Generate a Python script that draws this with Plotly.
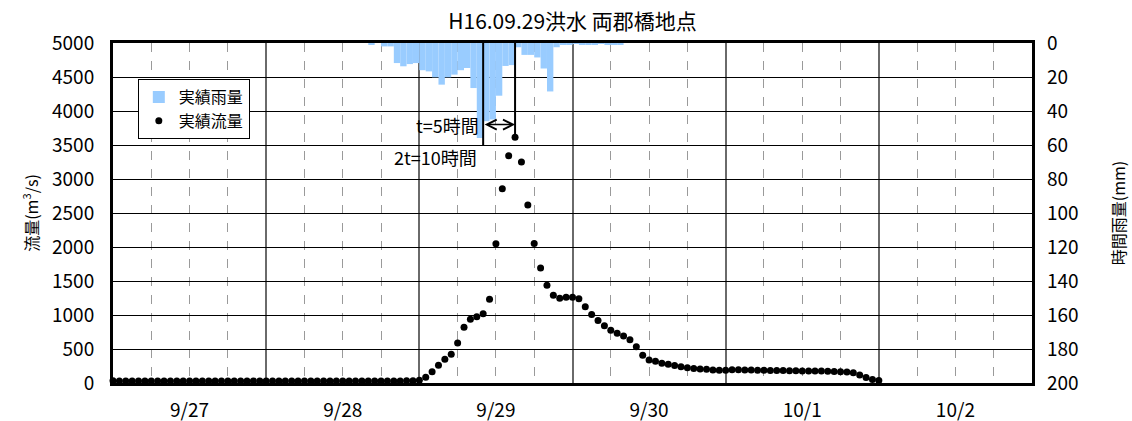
import numpy as np
import pandas as pd
import plotly.graph_objects as go

# ---------------- data ----------------
title_text = "H16.09.29洪水 両郡橋地点"
flow_name = "実績流量"
rain_name = "実績雨量"
flow_axis_title = "流量(m<sup>3</sup>/s)"
rain_axis_title = "時間雨量(mm)"

# hourly observed discharge (m3/s) from 2004-09-27 00:00
flow_start = "2004-09-27 00:00"
flow_values = [
    32, 31, 31, 30, 30, 30, 30, 30, 30, 30, 30, 30,
    30, 30, 30, 30, 30, 30, 30, 30, 30, 30, 30, 30,
    30, 30, 30, 30, 30, 30, 30, 30, 30, 30, 30, 30,
    30, 30, 30, 30, 30, 30, 30, 30, 30, 30, 32, 34,
    40, 85, 167, 260, 350, 424, 588, 819, 937, 975, 1019, 1231,
    2047, 2858, 3343, 3613, 3250, 2618, 2050, 1692, 1436, 1290, 1245, 1262,
    1262, 1238, 1120, 1008, 918, 843, 775, 733, 691, 635, 532, 407,
    338, 319, 292, 277, 258, 240, 225, 214, 206, 201, 191, 186,
    186, 196, 196, 191, 190, 188, 187, 185, 184, 182, 181, 180,
    178, 177, 176, 175, 173, 170, 167, 162, 150, 118, 80, 52,
    38,
]

# hourly rainfall (mm), value for the hour ENDING at the timestamp
rain_start = "2004-09-28 17:00"
rain_values = [
    1, 0, 2, 2, 11.8, 13.7, 12.4, 11.8, 16, 16.7, 20.2, 24.5,
    20.2, 18.6, 16, 14.7, 26.5, 55.9, 46, 45, 31, 13.5, 13, 2.5,
    7, 7, 8.5, 15, 28.5, 2.5, 1, 1, 0.5, 1, 1, 1,
    0.5, 1, 1, 1,
]

x_range = ["2004-09-27 00:00", "2004-10-03 00:00"]
flow_ticks = list(range(0, 5001, 500))
rain_ticks = list(range(0, 201, 20))

# annotation helpers (values on the flow axis)
arrow_level = 3800
line_bottom_level = 3500
label2_level = 3320

# ---------------- derived ----------------
HOUR = pd.Timedelta(hours=1)
flow_times = pd.date_range(flow_start, periods=len(flow_values), freq="h")
rain_times = pd.date_range(rain_start, periods=len(rain_values), freq="h")

i_rain = int(np.argmax(rain_values))
i_flow = int(np.argmax(flow_values))
t_rain_peak = rain_times[i_rain]
t_flow_peak = flow_times[i_flow]
lag = int((t_flow_peak - t_rain_peak) / HOUR)

FONT = "Noto Sans CJK JP"
TICK = 19

fig = go.Figure()
fig.add_trace(go.Bar(
    x=rain_times, y=rain_values, yaxis="y2", name=rain_name,
    width=3600000, offset=-3600000,
    marker=dict(color="#99CCFF", line=dict(width=0)),
))
fig.add_trace(go.Scatter(
    x=flow_times, y=flow_values, mode="markers", name=flow_name,
    marker=dict(color="black", size=7), cliponaxis=False,
))

# vertical reference lines
fig.add_shape(type="line", xref="x", yref="y",
              x0=t_rain_peak, x1=t_rain_peak, y0=flow_ticks[-1], y1=line_bottom_level,
              line=dict(color="black", width=2), layer="above")
fig.add_shape(type="line", xref="x", yref="y",
              x0=t_flow_peak, x1=t_flow_peak, y0=flow_ticks[-1], y1=flow_values[i_flow],
              line=dict(color="black", width=2), layer="above")

# double arrow
fig.add_annotation(x=t_flow_peak, y=arrow_level, ax=t_rain_peak, ay=arrow_level,
                   xref="x", yref="y", axref="x", ayref="y", text="",
                   showarrow=True, arrowside="end+start", arrowhead=5,
                   startarrowhead=5, arrowsize=1.3, startarrowsize=1.3,
                   arrowwidth=1.5, arrowcolor="black", standoff=0, startstandoff=0)
fig.add_annotation(x=t_rain_peak, y=arrow_level, xref="x", yref="y",
                   text=f"t={lag}時間", showarrow=False, xanchor="right", xshift=-2,
                   font=dict(family=FONT, size=18, color="black"))
fig.add_annotation(x=t_rain_peak, y=label2_level, xref="x", yref="y",
                   text=f"2t={2*lag}時間", showarrow=False, xanchor="right", xshift=-4,
                   font=dict(family=FONT, size=18, color="black"))

fig.update_layout(
    width=1132, height=421, template="none",
    margin=dict(l=113, r=100, t=43, b=38),
    paper_bgcolor="white", plot_bgcolor="white",
    font=dict(family=FONT, size=TICK, color="black"),
    title=dict(text=title_text, x=0.5, xref="paper", xanchor="center",
               y=1 - 22 / 421, yref="container", yanchor="middle",
               font=dict(family=FONT, size=21, color="black")),
    showlegend=True,
    legend=dict(x=0.027, y=0.894, xanchor="left", yanchor="top",
                bgcolor="white", bordercolor="black", borderwidth=1,
                font=dict(family=FONT, size=16, color="black"),
                itemwidth=30, tracegroupgap=0),
    hovermode=False,
    xaxis=dict(
        type="date", range=x_range, tick0=x_range[0], dtick=86400000,
        ticklabelmode="period", tickformat="%-m/%-d", ticks="",
        showgrid=True, gridcolor="#6a6a6a", gridwidth=1.5,
        showline=True, linecolor="black", linewidth=3, mirror=True,
        zeroline=False, automargin=False, ticklabelstandoff=8,
        tickfont=dict(family=FONT, size=TICK),
        minor=dict(dtick=21600000, tick0=x_range[0], showgrid=True,
                   griddash="dash", gridcolor="#9a9a9a", gridwidth=1),
    ),
    yaxis=dict(
        range=[flow_ticks[0], flow_ticks[-1]], tickvals=flow_ticks, ticks="",
        showgrid=True, gridcolor="black", gridwidth=1,
        showline=True, linecolor="black", linewidth=3, mirror=True,
        zeroline=False, automargin=False, ticklabelstandoff=12,
        tickfont=dict(family=FONT, size=TICK),
        title=dict(text=flow_axis_title, standoff=10,
                   font=dict(family=FONT, size=16)),
    ),
    yaxis2=dict(
        range=[rain_ticks[-1], rain_ticks[0]], tickvals=rain_ticks, ticks="",
        overlaying="y", side="right", showgrid=False, showline=False,
        zeroline=False, automargin=False, ticklabelstandoff=14,
        tickfont=dict(family=FONT, size=TICK),
        title=dict(text=rain_axis_title, standoff=36,
                   font=dict(family=FONT, size=16)),
    ),
)

fig.write_html("out.html")
